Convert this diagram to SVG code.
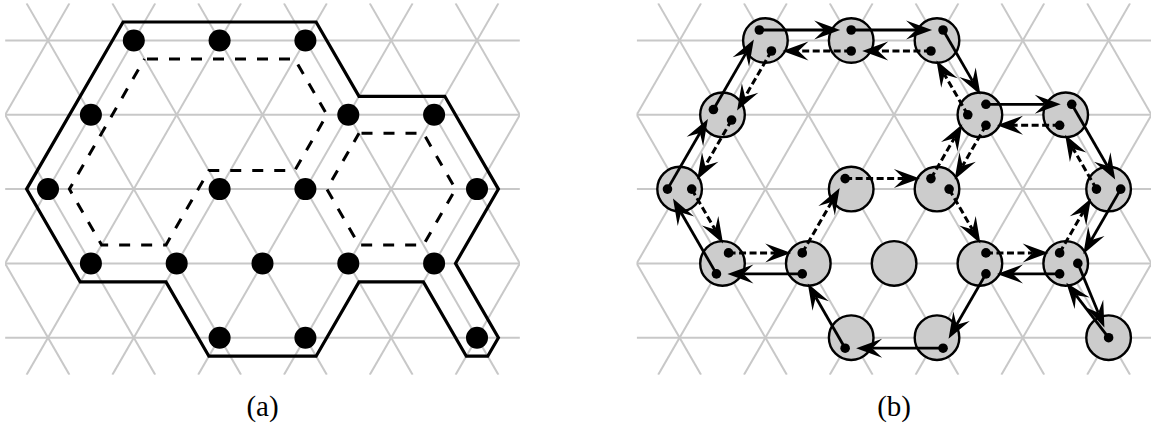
<svg xmlns="http://www.w3.org/2000/svg" xmlns:xlink="http://www.w3.org/1999/xlink" width="1151" height="429" viewBox="0 0 1151 429">
<style>
.gl line{stroke:#c8c8c8;stroke-width:2;fill:none}
.adot{fill:#000}
.outline{fill:none;stroke:#000;stroke-width:3.2;stroke-linejoin:miter}
.dsh{fill:none;stroke:#000;stroke-width:3;stroke-dasharray:11 11;stroke-dashoffset:-2.5}
.big{fill:#cccccc;stroke:#000;stroke-width:2.4}
.pt{fill:#000}
.arr{fill:none;stroke:#000;stroke-width:2.8;marker-end:url(#ah)}
.arr.d{stroke-width:3;stroke-dasharray:7 3.5}
.lbl{font-family:"Liberation Serif","Times New Roman",serif;font-size:29px;fill:#000;text-anchor:middle}
</style>
<defs>
<clipPath id="gclip"><rect x="5.1" y="3.35" width="514.8" height="371.5"/></clipPath>
<marker id="ah" markerUnits="userSpaceOnUse" orient="auto" refX="0" refY="0" markerWidth="40" markerHeight="40" overflow="visible">
<path d="M16,0 L-10,-9.5 L0,0 L-10,9.5 Z" fill="#000"/>
</marker>
<g id="grid" class="gl" clip-path="url(#gclip)">
<line x1="5.1" y1="40.5" x2="519.9" y2="40.5"/>
<line x1="5.1" y1="114.8" x2="519.9" y2="114.8"/>
<line x1="5.1" y1="189.1" x2="519.9" y2="189.1"/>
<line x1="5.1" y1="263.4" x2="519.9" y2="263.4"/>
<line x1="5.1" y1="337.7" x2="519.9" y2="337.7"/>
<line x1="-145.05" y1="3.35" x2="69.44" y2="374.85"/>
<line x1="-59.25" y1="3.35" x2="155.24" y2="374.85"/>
<line x1="26.55" y1="3.35" x2="241.04" y2="374.85"/>
<line x1="112.35" y1="3.35" x2="326.84" y2="374.85"/>
<line x1="198.15" y1="3.35" x2="412.64" y2="374.85"/>
<line x1="283.95" y1="3.35" x2="498.44" y2="374.85"/>
<line x1="369.75" y1="3.35" x2="584.24" y2="374.85"/>
<line x1="455.55" y1="3.35" x2="670.04" y2="374.85"/>
<line x1="69.45" y1="3.35" x2="-145.04" y2="374.85"/>
<line x1="155.25" y1="3.35" x2="-59.24" y2="374.85"/>
<line x1="241.05" y1="3.35" x2="26.56" y2="374.85"/>
<line x1="326.85" y1="3.35" x2="112.36" y2="374.85"/>
<line x1="412.65" y1="3.35" x2="198.16" y2="374.85"/>
<line x1="498.45" y1="3.35" x2="283.96" y2="374.85"/>
<line x1="584.25" y1="3.35" x2="369.76" y2="374.85"/>
<line x1="670.05" y1="3.35" x2="455.56" y2="374.85"/>
</g>
</defs>

<!-- Panel (a) -->
<g id="panel-a">
<use xlink:href="#grid" href="#grid"/>
<g id="a-paths">
<path class="dsh" d="M144.5,59 L294.7,59 L326.9,114.8 L294.7,170.6 L208.9,170.6 L166,244.9 L101.6,244.9 L69.4,189.1 Z"/>
<path class="dsh" d="M359,133.3 L423.4,133.3 L455.6,189.1 L423.4,244.9 L359,244.9 L326.8,189.1 Z"/>
<path class="outline" d="M123.1,22 L316.1,22 L359,96.3 L444.8,96.3 L498.4,189.1 L455.5,263.4 L498.4,337.7 L487.7,356.2 L466.3,356.2 L423.4,281.9 L359,281.9 L316.1,356.2 L208.9,356.2 L166,281.9 L80.2,281.9 L26.6,189.1 Z"/>
</g>
<g id="a-n01"><circle class="adot" cx="133.8" cy="40.5" r="11"/></g>
<g id="a-n02"><circle class="adot" cx="219.6" cy="40.5" r="11"/></g>
<g id="a-n03"><circle class="adot" cx="305.4" cy="40.5" r="11"/></g>
<g id="a-n11"><circle class="adot" cx="90.9" cy="114.8" r="11"/></g>
<g id="a-n14"><circle class="adot" cx="348.3" cy="114.8" r="11"/></g>
<g id="a-n15"><circle class="adot" cx="434.1" cy="114.8" r="11"/></g>
<g id="a-n20"><circle class="adot" cx="48" cy="189.1" r="11"/></g>
<g id="a-n22"><circle class="adot" cx="219.6" cy="189.1" r="11"/></g>
<g id="a-n23"><circle class="adot" cx="305.4" cy="189.1" r="11"/></g>
<g id="a-n25"><circle class="adot" cx="477" cy="189.1" r="11"/></g>
<g id="a-n31"><circle class="adot" cx="90.9" cy="263.4" r="11"/></g>
<g id="a-n32"><circle class="adot" cx="176.7" cy="263.4" r="11"/></g>
<g id="a-n33"><circle class="adot" cx="262.5" cy="263.4" r="11"/></g>
<g id="a-n34"><circle class="adot" cx="348.3" cy="263.4" r="11"/></g>
<g id="a-n35"><circle class="adot" cx="434.1" cy="263.4" r="11"/></g>
<g id="a-n42"><circle class="adot" cx="219.6" cy="337.7" r="11"/></g>
<g id="a-n43"><circle class="adot" cx="305.4" cy="337.7" r="11"/></g>
<g id="a-n45"><circle class="adot" cx="477" cy="337.7" r="11"/></g>
<text class="lbl" x="262.5" y="416">(a)</text>
</g>

<!-- Panel (b) -->
<g id="panel-b">
<use xlink:href="#grid" href="#grid" transform="translate(631.6,0)"/>
<g id="b-n01"><circle class="big" cx="765.4" cy="40.5" r="22.3"/><circle class="pt" cx="759.34" cy="30" r="4.8"/><circle class="pt" cx="771.46" cy="51" r="4.8"/></g>
<g id="b-n02"><circle class="big" cx="851.2" cy="40.5" r="22.3"/><circle class="pt" cx="851.2" cy="30" r="4.8"/><circle class="pt" cx="851.2" cy="51" r="4.8"/></g>
<g id="b-n03"><circle class="big" cx="937" cy="40.5" r="22.3"/><circle class="pt" cx="943.06" cy="30" r="4.8"/><circle class="pt" cx="930.94" cy="51" r="4.8"/></g>
<g id="b-n11"><circle class="big" cx="722.5" cy="114.8" r="22.3"/><circle class="pt" cx="713.41" cy="109.55" r="4.8"/><circle class="pt" cx="731.59" cy="120.05" r="4.8"/></g>
<g id="b-n14"><circle class="big" cx="979.9" cy="114.8" r="22.3"/><circle class="pt" cx="985.96" cy="104.3" r="4.8"/><circle class="pt" cx="967.78" cy="114.8" r="4.8"/><circle class="pt" cx="985.96" cy="125.3" r="4.8"/></g>
<g id="b-n15"><circle class="big" cx="1065.7" cy="114.8" r="22.3"/><circle class="pt" cx="1071.76" cy="104.3" r="4.8"/><circle class="pt" cx="1059.64" cy="125.3" r="4.8"/></g>
<g id="b-n20"><circle class="big" cx="679.6" cy="189.1" r="22.3"/><circle class="pt" cx="667.48" cy="189.1" r="4.8"/><circle class="pt" cx="691.72" cy="189.1" r="4.8"/></g>
<g id="b-n22"><circle class="big" cx="851.2" cy="189.1" r="22.3"/><circle class="pt" cx="845.14" cy="178.6" r="4.8"/></g>
<g id="b-n23"><circle class="big" cx="937" cy="189.1" r="22.3"/><circle class="pt" cx="930.94" cy="178.6" r="4.8"/><circle class="pt" cx="949.12" cy="189.1" r="4.8"/></g>
<g id="b-n25"><circle class="big" cx="1108.6" cy="189.1" r="22.3"/><circle class="pt" cx="1120.72" cy="189.1" r="4.8"/><circle class="pt" cx="1096.48" cy="189.1" r="4.8"/></g>
<g id="b-n31"><circle class="big" cx="722.5" cy="263.4" r="22.3"/><circle class="pt" cx="716.44" cy="273.9" r="4.8"/><circle class="pt" cx="728.56" cy="252.9" r="4.8"/></g>
<g id="b-n32"><circle class="big" cx="808.3" cy="263.4" r="22.3"/><circle class="pt" cx="802.24" cy="273.9" r="4.8"/><circle class="pt" cx="802.24" cy="252.9" r="4.8"/></g>
<g id="b-n33"><circle class="big" cx="894.1" cy="263.4" r="22.3"/></g>
<g id="b-n34"><circle class="big" cx="979.9" cy="263.4" r="22.3"/><circle class="pt" cx="985.96" cy="273.9" r="4.8"/><circle class="pt" cx="985.96" cy="252.9" r="4.8"/></g>
<g id="b-n35"><circle class="big" cx="1065.7" cy="263.4" r="22.3"/><circle class="pt" cx="1077.82" cy="263.4" r="4.8"/><circle class="pt" cx="1059.64" cy="273.9" r="4.8"/><circle class="pt" cx="1059.64" cy="252.9" r="4.8"/></g>
<g id="b-n42"><circle class="big" cx="851.2" cy="337.7" r="22.3"/><circle class="pt" cx="845.14" cy="348.2" r="4.8"/></g>
<g id="b-n43"><circle class="big" cx="937" cy="337.7" r="22.3"/><circle class="pt" cx="943.06" cy="348.2" r="4.8"/></g>
<g id="b-n45"><circle class="big" cx="1108.6" cy="337.7" r="22.3"/><circle class="pt" cx="1108.6" cy="337.7" r="4.8"/></g>

<g id="connectors">
<!-- solid outer cycle -->
<path class="arr" d="M759.34,30 L824.2,30"/>
<path class="arr" d="M851.2,30 L916.06,30"/>
<path class="arr" d="M943.06,30 L972.46,80.92"/>
<path class="arr" d="M985.96,104.3 L1044.76,104.3"/>
<path class="arr" d="M1071.76,104.3 L1107.22,165.72"/>
<path class="arr" d="M1120.72,189.1 L1091.32,240.02"/>
<path class="arr" d="M1077.82,263.4 L1098.27,312.75"/>
<path class="arr" d="M1108.6,337.7 L1076.08,295.32"/>
<path class="arr" d="M1059.64,273.9 L1012.96,273.9"/>
<path class="arr" d="M985.96,273.9 L956.56,324.82"/>
<path class="arr" d="M943.06,348.2 L872.14,348.2"/>
<path class="arr" d="M845.14,348.2 L815.74,297.28"/>
<path class="arr" d="M802.24,273.9 L743.44,273.9"/>
<path class="arr" d="M716.44,273.9 L680.98,212.48"/>
<path class="arr" d="M667.48,189.1 L699.91,132.93"/>
<path class="arr" d="M713.41,109.55 L745.84,53.38"/>
<!-- dashed cycle 1 -->
<path class="arr d" d="M771.46,51 L745.09,96.67"/>
<path class="arr d" d="M731.59,120.05 L705.22,165.72"/>
<path class="arr d" d="M691.72,189.1 L715.06,229.52"/>
<path class="arr d" d="M728.56,252.9 L775.24,252.9"/>
<path class="arr d" d="M802.24,252.9 L831.64,201.98"/>
<path class="arr d" d="M845.14,178.6 L903.94,178.6"/>
<path class="arr d" d="M930.94,178.6 L954.28,138.18"/>
<path class="arr d" d="M967.78,114.8 L944.44,74.38"/>
<path class="arr d" d="M930.94,51 L878.2,51"/>
<path class="arr d" d="M851.2,51 L798.46,51"/>
<!-- dashed cycle 2 -->
<path class="arr d" d="M949.12,189.1 L972.46,229.52"/>
<path class="arr d" d="M985.96,252.9 L1032.64,252.9"/>
<path class="arr d" d="M1059.64,252.9 L1082.98,212.28"/>
<path class="arr d" d="M1096.48,189.1 L1073.14,148.68"/>
<path class="arr d" d="M1059.64,125.3 L1012.96,125.3"/>
<path class="arr d" d="M985.96,125.3 L962.62,165.72"/>
</g>
<text class="lbl" x="894.1" y="416">(b)</text>
</g>
</svg>
